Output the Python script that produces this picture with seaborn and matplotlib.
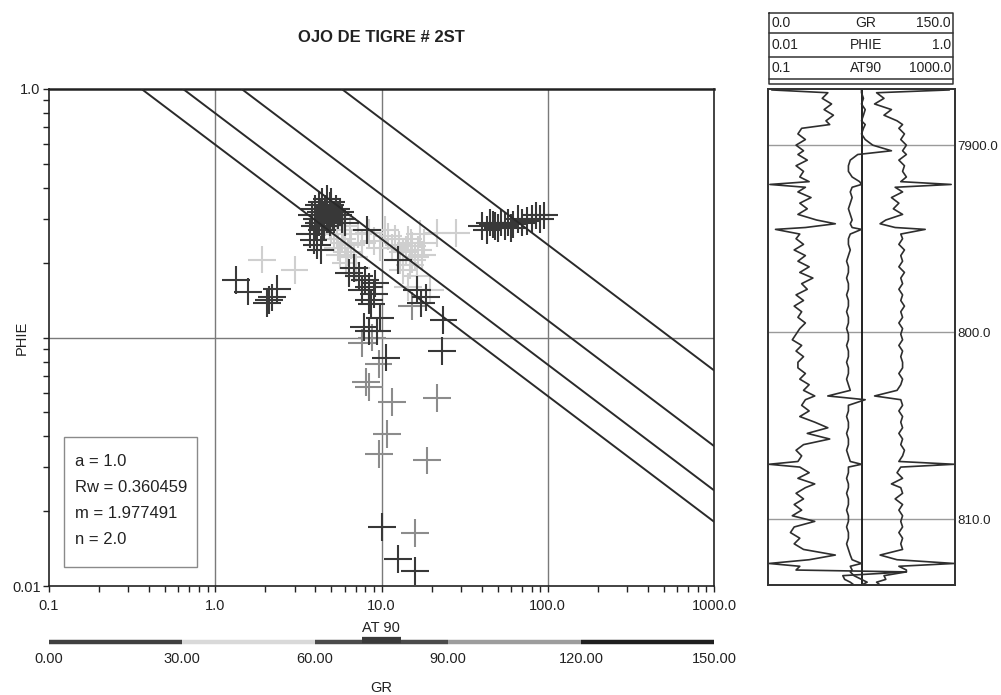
import numpy as np
import pandas as pd
import seaborn as sns
import matplotlib.pyplot as plt
from matplotlib.ticker import FixedLocator, FixedFormatter, LogLocator, NullFormatter

# Pickett parameters
A_PARAM = 1.0
RW = 0.360459
M_EXP = 1.977491
N_EXP = 2.0
SW_LINES = [1.0, 0.75, 0.5, 0.25]

# Crossplot points (AT90 resistivity, PHIE porosity, GR colour)
AT90_PTS = [
    # light blob / light crosses
    1.92, 3.0,
    4.6, 5.0, 5.4, 5.8, 6.0, 5.5, 6.3, 6.8, 5.2, 6.5, 7.2, 5.9, 6.1, 7.0, 4.8, 4.3, 5.6, 6.6, 4.9, 7.6,
    8.4, 10.5, 12.0, 14.4, 15.3, 13.5, 16.0, 15.3, 13.4, 16.4, 21.5, 28.0, 18.0, 17.0, 11.5, 19.5, 14.5,
    9.0, 11.0, 12.8, 14.0, 15.0, 16.5, 13.0, 14.8, 17.5, 9.8,
    # medium grey
    8.1, 8.4, 11.6, 21.5, 10.8, 9.7, 18.8, 15.9, 9.6, 15.3, 7.6, 8.8,
    # dark left
    1.34, 1.57, 2.34, 2.1, 2.05, 2.2,
    # dark cluster
    3.8, 4.0, 4.1, 4.2, 4.3, 4.4, 4.5, 4.6, 4.7, 4.8, 4.9, 5.0, 5.1, 5.3, 5.5, 5.8, 6.0,
    4.2, 4.5, 4.9, 5.2, 4.0, 4.4, 4.7, 5.0, 5.6,
    3.9, 4.3, 3.7, 4.1,
    # dark middle
    8.2, 12.5, 6.4, 7.3, 6.8, 8.4, 9.0, 8.4, 8.7, 9.2, 7.8, 8.4, 9.4, 9.8, 17.2, 16.4, 18.5,
    23.6, 23.2, 10.6, 7.6, 8.0,
    # dark right cluster
    40, 43, 45, 48, 50, 52, 55, 58, 62, 66, 70, 75, 80, 85, 90, 95, 47, 60,
    # dark low
    10.1, 12.6, 15.9,
]
PHIE_PTS = [
    0.206, 0.187,
    0.29, 0.27, 0.26, 0.25, 0.24, 0.23, 0.22, 0.21, 0.25, 0.27, 0.26, 0.28, 0.20, 0.19, 0.30, 0.29, 0.215, 0.235, 0.28, 0.24,
    0.264, 0.27, 0.25, 0.248, 0.233, 0.22, 0.21, 0.206, 0.187, 0.177, 0.264, 0.264, 0.24, 0.26, 0.23, 0.155, 0.16,
    0.245, 0.255, 0.235, 0.225, 0.24, 0.225, 0.205, 0.195, 0.215, 0.23,
    0.066, 0.063, 0.055, 0.057, 0.041, 0.034, 0.032, 0.0163, 0.078, 0.134, 0.095, 0.10,
    0.17, 0.153, 0.157, 0.142, 0.138, 0.145,
    0.31, 0.33, 0.30, 0.34, 0.32, 0.35, 0.31, 0.33, 0.36, 0.30, 0.34, 0.32, 0.31, 0.33, 0.31, 0.30, 0.29,
    0.29, 0.28, 0.29, 0.30, 0.28, 0.27, 0.30, 0.35, 0.32,
    0.247, 0.225, 0.26, 0.235,
    0.27, 0.205, 0.182, 0.177, 0.19, 0.16, 0.15, 0.142, 0.136, 0.165, 0.11, 0.106, 0.106, 0.12, 0.138, 0.156, 0.145,
    0.118, 0.0885, 0.083, 0.155, 0.17,
    0.28, 0.27, 0.29, 0.28, 0.275, 0.29, 0.28, 0.29, 0.285, 0.30, 0.29, 0.295, 0.30, 0.31, 0.30, 0.31, 0.285, 0.275,
    0.0173, 0.0128, 0.0115,
]
GR_PTS = (
    [45] * 2 + [45] * 20 + [45] * 17 + [45] * 10
    + [105] * 12
    + [20] * 6
    + [75] * 17 + [75] * 9 + [75] * 4
    + [75] * 22
    + [75] * 18
    + [75] * 3
)

# GR scale bins (colour bar under the plot)
GR_EDGES = [0, 30, 60, 90, 120, 150]
GR_TICKS = ['0.00', '30.00', '60.00', '90.00', '120.00', '150.00']
GR_BINS = ['0-30', '30-60', '60-90', '90-120', '120-150']
GR_COLORS = ['#3a3a3a', '#cfcfcf', '#383838', '#8c8c8c', '#1c1c1c']
BAR_COLORS = ['#404040', '#d9d9d9', '#4b4b4b', '#9d9d9d', '#1f1f1f']
BAR_MARK = [70.5, 79.5]

# Log track
DEPTH_TOP = 7897.0
DEPTH_BOTTOM = 7923.5
DEPTH = [
    7897.05, 7897.2, 7897.5, 7897.8, 7898.1, 7898.4, 7898.7, 7898.9, 7899.1, 7899.4,
    7899.7, 7900.0, 7900.3, 7900.5, 7900.8, 7901.1, 7901.4, 7901.7, 7901.95, 7902.1,
    7902.25, 7902.5, 7902.8, 7903.1, 7903.4, 7903.7, 7904.0, 7904.2, 7904.4, 7904.5,
    7904.75, 7905.0, 7905.3, 7905.6, 7905.9, 7906.2, 7906.5, 7906.8, 7907.1, 7907.4,
    7907.7, 7908.0, 7908.3, 7908.6, 7908.9, 7909.2, 7909.5, 7909.8, 7910.1, 7910.4,
    7910.7, 7911.0, 7911.3, 7911.6, 7911.9, 7912.2, 7912.5, 7912.8, 7913.1, 7913.4,
    7913.6, 7913.9, 7914.2, 7914.5, 7914.8, 7915.1, 7915.4, 7915.7, 7916.0, 7916.3,
    7916.6, 7916.9, 7917.05, 7917.2, 7917.5, 7917.8, 7918.1, 7918.3, 7918.6, 7918.9,
    7919.2, 7919.5, 7919.8, 7920.1, 7920.4, 7920.7, 7921.0, 7921.3, 7921.6, 7921.9,
    7922.15, 7922.35, 7922.5, 7922.7, 7922.8, 7923.0, 7923.2, 7923.35, 7923.5,
]
GR_LOG = [
    3.0, 48.0, 43.5, 51.0, 45.0, 52.5, 46.5, 49.5, 27.0, 24.0,
    30.0, 22.5, 28.5, 24.0, 31.5, 22.5, 28.5, 25.5, 33.0, 1.5,
    30.0, 24.0, 34.5, 25.5, 31.5, 24.0, 39.0, 54.0, 30.0, 6.0,
    25.5, 22.5, 28.5, 21.0, 30.0, 24.0, 33.0, 25.5, 36.0, 27.0,
    31.5, 22.5, 28.5, 21.0, 27.0, 24.0, 30.0, 25.5, 22.5, 19.5,
    27.0, 22.5, 28.5, 24.0, 24.0, 30.0, 25.5, 33.0, 28.5, 37.5,
    30.0, 27.0, 33.0, 25.5, 37.5, 48.0, 31.5, 49.5, 28.5, 22.5,
    27.0, 24.0, 0.8, 25.5, 33.0, 24.0, 37.5, 30.0, 22.5, 28.5,
    21.0, 27.0, 19.5, 37.5, 21.0, 18.0, 25.5, 21.0, 28.5, 54.0,
    33.0, 0.8, 25.5, 22.5, 111.0, 60.0, 61.5, 66.0, 69.0,
]
AT90_LOG = [
    10.0, 10.0, 11.0, 10.0, 12.0, 11.0, 10.0, 12.0, 11.0, 10.0,
    12.0, 17.4, 43.7, 8.3, 5.75, 5.25, 5.25, 6.3, 9.1, 10.0,
    6.3, 5.75, 6.3, 5.75, 5.25, 5.75, 6.3, 5.75, 6.3, 10.0,
    5.75, 5.25, 5.25, 5.75, 5.25, 4.8, 5.25, 5.25, 4.8, 5.25,
    5.25, 4.8, 5.25, 5.25, 4.8, 5.25, 5.25, 4.8, 5.25, 5.25,
    4.8, 5.25, 5.25, 4.8, 5.25, 5.25, 4.8, 5.25, 5.75, 1.9,
    12.0, 5.25, 5.25, 4.8, 5.25, 5.25, 4.8, 5.25, 5.25, 4.8,
    5.25, 5.75, 10.0, 5.25, 5.25, 4.8, 5.25, 5.25, 4.8, 5.25,
    5.25, 4.8, 5.25, 5.25, 4.8, 5.25, 5.25, 4.8, 5.25, 5.75,
    6.3, 10.0, 5.75, 6.3, 5.75, 6.9, 10.0, 13.2, 10.0,
]
PHIE_LOG = [
    0.87, 0.145, 0.174, 0.138, 0.209, 0.174, 0.240, 0.275, 0.251, 0.288,
    0.263, 0.302, 0.275, 0.302, 0.251, 0.288, 0.275, 0.302, 0.263, 0.91,
    0.229, 0.275, 0.209, 0.251, 0.219, 0.275, 0.182, 0.158, 0.229, 0.48,
    0.263, 0.275, 0.251, 0.288, 0.263, 0.275, 0.251, 0.288, 0.263, 0.275,
    0.251, 0.275, 0.263, 0.288, 0.263, 0.275, 0.251, 0.275, 0.263, 0.275,
    0.251, 0.275, 0.263, 0.275, 0.275, 0.251, 0.275, 0.263, 0.240, 0.138,
    0.263, 0.275, 0.251, 0.275, 0.263, 0.275, 0.251, 0.275, 0.263, 0.288,
    0.275, 0.251, 0.98, 0.263, 0.240, 0.275, 0.209, 0.263, 0.275, 0.229,
    0.275, 0.251, 0.275, 0.263, 0.275, 0.251, 0.275, 0.263, 0.275, 0.158,
    0.240, 0.98, 0.251, 0.302, 0.302, 0.174, 0.182, 0.145, 0.158,
]

W, H = 1001, 695


def fig_box(x0, y0, x1, y1):
    # pixel box (top-left origin) -> figure fraction rect
    return [x0 / W, 1 - y1 / H, (x1 - x0) / W, (y1 - y0) / H]


sns.set_style('white')
plt.rcParams['font.family'] = ['Liberation Sans', 'DejaVu Sans']
plt.rcParams['text.color'] = '#222222'
plt.rcParams['xtick.color'] = '#222222'
plt.rcParams['ytick.color'] = '#222222'

fig = plt.figure(figsize=(W / 100, H / 100), dpi=100)

# ---- Pickett crossplot ----
ax = fig.add_axes(fig_box(49, 89, 714, 586))

pts = pd.DataFrame({'AT90': AT90_PTS, 'PHIE': PHIE_PTS, 'GR': GR_PTS})
pts['GR bin'] = pd.cut(pts['GR'], GR_EDGES, labels=GR_BINS)
draw_rank = {'30-60': 0, '90-120': 1, '0-30': 2, '60-90': 2, '120-150': 3}
pts['rank'] = pts['GR bin'].astype(str).map(draw_rank)
pts = pts.sort_values('rank', kind='stable')

sns.scatterplot(data=pts, x='AT90', y='PHIE', hue='GR bin',
                palette=dict(zip(GR_BINS, GR_COLORS)), marker='+',
                s=400, linewidth=1.5, legend=False, ax=ax, zorder=2)

ax.set_xscale('log')
ax.set_yscale('log')
ax.set_xlim(0.1, 1000)
ax.set_ylim(0.01, 1.0)

for sw in SW_LINES:
    rt = np.array([A_PARAM * RW / sw ** N_EXP, 1000.0])
    phi = (A_PARAM * RW / (rt * sw ** N_EXP)) ** (1 / M_EXP)
    ax.plot(rt, phi, color='#2a2a2a', lw=1.4, zorder=3)

for v in [1, 10, 100]:
    ax.axvline(v, color='#7a7a7a', lw=1.0, zorder=1)
ax.axhline(0.1, color='#7a7a7a', lw=1.0, zorder=1)

ax.xaxis.set_major_locator(FixedLocator([0.1, 1, 10, 100, 1000]))
ax.xaxis.set_major_formatter(FixedFormatter(['0.1', '1.0', '10.0', '100.0', '1000.0']))
ax.xaxis.set_minor_locator(LogLocator(base=10, subs=(2, 3, 4, 5, 6, 7, 8, 9), numticks=20))
ax.xaxis.set_minor_formatter(NullFormatter())
ax.yaxis.set_major_locator(FixedLocator([0.01, 0.1, 1.0]))
ax.yaxis.set_major_formatter(FixedFormatter(['0.01', '', '1.0']))
ax.yaxis.set_minor_locator(LogLocator(base=10, subs=(2, 3, 4, 5, 6, 7, 8, 9), numticks=20))
ax.yaxis.set_minor_formatter(NullFormatter())
ax.tick_params(which='both', direction='out', length=4, width=1.0, labelsize=10.5)
ax.tick_params(axis='x', which='both', pad=5, bottom=True)
ax.tick_params(axis='y', which='both', pad=2, left=True)
ax.set_xlabel('')
ax.set_ylabel('')
for sp in ax.spines.values():
    sp.set_color('#222222')
    sp.set_linewidth(1.2)
ax.spines['top'].set_linewidth(1.8)

# parameter box
fig.patches.append(plt.Rectangle((64 / W, 1 - 567 / H), 133 / W, 130 / H,
                                 transform=fig.transFigure, fill=False,
                                 edgecolor='#8a8a8a', lw=1.0))
for txt, ypx in zip(['a = 1.0', 'Rw = 0.360459', 'm = 1.977491', 'n = 2.0'],
                    [462, 487, 513, 540]):
    fig.text(75 / W, 1 - ypx / H, txt, fontsize=12, ha='left', va='center')

fig.text(381 / W, 1 - 37 / H, 'OJO DE TIGRE # 2ST', fontsize=12,
         fontweight='bold', ha='center', va='center')
fig.text(22 / W, 1 - 338 / H, 'PHIE', fontsize=10.5, rotation=90,
         ha='center', va='center')
fig.text(381 / W, 1 - 628 / H, 'AT 90', fontsize=10.5, ha='center', va='center')
fig.text(381 / W, 1 - 688 / H, 'GR', fontsize=10.5, ha='center', va='center')

# ---- GR colour bar ----
axb = fig.add_axes(fig_box(49, 634, 714, 650))
axb.set_xlim(0, 150)
axb.set_ylim(0, 1)
for lo, hi, c in zip(GR_EDGES[:-1], GR_EDGES[1:], BAR_COLORS):
    axb.hlines(0.5, lo, hi, colors=c, lw=3.2)
axb.hlines(0.62, BAR_MARK[0], BAR_MARK[1], colors='#3a3a3a', lw=4.5)
axb.set_xticks(GR_EDGES, GR_TICKS)
axb.set_yticks([])
axb.tick_params(axis='x', length=0, pad=1.5, labelsize=10.5)
sns.despine(ax=axb, left=True, bottom=True)

# ---- log track ----
axt = fig.add_axes(fig_box(768, 89, 955, 585))
axt.set_xlim(0, 150)
ax_phie = axt.twiny()
ax_phie.set_xscale('log')
ax_phie.set_xlim(0.01, 1.0)
ax_at = axt.twiny()
ax_at.set_xscale('log')
ax_at.set_xlim(0.1, 1000)

for d in [7900, 7910, 7920]:
    axt.axhline(d, color='#9a9a9a', lw=1.0, zorder=0)
axt.axvline(75, color='#111111', lw=1.3, zorder=1)

sns.lineplot(x=GR_LOG, y=DEPTH, sort=False, estimator=None, ax=axt,
             color='#2e2e2e', lw=1.2)
sns.lineplot(x=PHIE_LOG, y=DEPTH, sort=False, estimator=None, ax=ax_phie,
             color='#2e2e2e', lw=1.2)
sns.lineplot(x=AT90_LOG, y=DEPTH, sort=False, estimator=None, ax=ax_at,
             color='#2e2e2e', lw=1.2)
axt.set_ylim(DEPTH_BOTTOM, DEPTH_TOP)

for a_ in (ax_phie, ax_at):
    a_.xaxis.set_visible(False)
    a_.set_ylabel('')
    a_.set_xlabel('')
axt.set_xticks([])
axt.set_xlabel('')
axt.set_ylabel('')
axt.yaxis.tick_right()
axt.set_yticks([7900, 7910, 7920], ['7900.0', '800.0', '810.0'])
axt.tick_params(axis='y', length=0, pad=1.5, labelsize=9.6)
for a_ in (axt, ax_phie, ax_at):
    for sp in a_.spines.values():
        sp.set_color('#333333')
        sp.set_linewidth(1.1)

# ---- track header ----
axh = fig.add_axes(fig_box(768, 12, 955, 85))
axh.set_xlim(768, 955)
axh.set_ylim(85, 12)
axh.axis('off')
axh.plot([769, 953, 953, 769, 769], [13, 13, 84, 84, 13], color='#333333', lw=1.1)
for yy in [33, 57, 79]:
    axh.plot([769, 953], [yy, yy], color='#333333', lw=1.1)
for (lo, name, hi), yc in zip([('0.0', 'GR', '150.0'), ('0.01', 'PHIE', '1.0'),
                               ('0.1', 'AT90', '1000.0')], [23, 45, 68]):
    axh.text(771, yc, lo, fontsize=10, ha='left', va='center')
    axh.text(866, yc, name, fontsize=10, ha='center', va='center')
    axh.text(951, yc, hi, fontsize=10, ha='right', va='center')

fig.savefig('out.png', dpi=100)
